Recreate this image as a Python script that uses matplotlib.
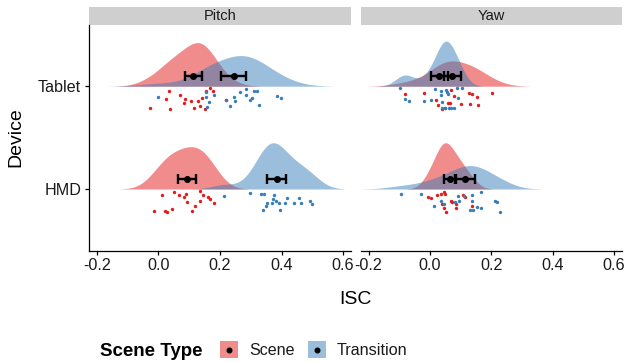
import numpy as np
import matplotlib
matplotlib.use("Agg")
import matplotlib.pyplot as plt
from matplotlib.patches import Rectangle

plt.rcParams['font.family'] = ['Liberation Sans', 'DejaVu Sans']

# ---------------- data ----------------
panels = ["Pitch", "Yaw"]
devices = ["Tablet", "HMD"]
scene_types = ["Scene", "Transition"]
colors = {"Scene": "#E41A1C", "Transition": "#377EB8"}
x_ticks = [-0.2, 0.0, 0.2, 0.4, 0.6]
x_tick_labels = ["-0.2", "0.0", "0.2", "0.4", "0.6"]

# ISC values per participant
pitch_tablet_scene = [-0.029, 0.033, 0.026, 0.036, 0.071, 0.085, 0.082, 0.106, 0.117,
                      0.129, 0.142, 0.134, 0.153, 0.166, 0.177, 0.150, 0.218]
pitch_tablet_transition = [-0.001, 0.155, 0.155, 0.164, 0.158, 0.180, 0.218, 0.234, 0.245,
                           0.250, 0.266, 0.283, 0.286, 0.299, 0.303, 0.312, 0.319, 0.326,
                           0.384, 0.397]
pitch_hmd_scene = [-0.016, 0.012, 0.022, 0.028, 0.044, 0.050, 0.068, 0.084, 0.091,
                   0.093, 0.109, 0.120, 0.134, 0.136, 0.144, 0.162, 0.166, 0.182]
pitch_hmd_transition = [0.212, 0.299, 0.332, 0.343, 0.375, 0.373, 0.381, 0.354, 0.348,
                        0.370, 0.341, 0.395, 0.392, 0.410, 0.419, 0.440, 0.457, 0.465,
                        0.493, 0.500]
yaw_tablet_scene = [-0.080, -0.020, 0.020, 0.026, 0.039, 0.050, 0.058, 0.064, 0.069,
                    0.078, 0.100, 0.126, 0.137, 0.129, 0.154, 0.158, 0.203]
yaw_tablet_transition = [-0.099, -0.080, -0.069, -0.020, 0.004, 0.015, 0.035, 0.035,
                         0.039, 0.053, 0.056, 0.058, 0.039, 0.048, 0.061, 0.069, 0.078,
                         0.091, 0.089, 0.104]
yaw_hmd_scene = [-0.005, 0.004, 0.024, 0.035, 0.045, 0.039, 0.045, 0.053, 0.069,
                 0.071, 0.086, 0.086, 0.107, 0.113, 0.137, 0.048]
yaw_hmd_transition = [-0.096, -0.031, 0.013, 0.037, 0.045, 0.080, 0.091, 0.093, 0.111,
                      0.137, 0.137, 0.129, 0.140, 0.154, 0.165, 0.167, 0.213, 0.219, 0.227]

# vertical jitter of the "rain" points (category units below the baseline)
pitch_tablet_scene_jit = [0.212, 0.042, 0.124, 0.222, 0.084, 0.124, 0.167, 0.147, 0.212,
                          0.140, 0.118, 0.189, 0.042, 0.020, 0.042, 0.222, 0.133]
pitch_tablet_transition_jit = [0.108, 0.059, 0.108, 0.150, 0.206, 0.084, 0.133, 0.189, 0.108,
                               0.140, 0.052, 0.032, 0.084, 0.130, 0.114, 0.042, 0.042, 0.179,
                               0.098, 0.118]
pitch_hmd_scene_jit = [0.216, 0.059, 0.212, 0.222, 0.196, 0.025, 0.059, 0.075, 0.052,
                       0.124, 0.216, 0.163, 0.114, 0.020, 0.059, 0.081, 0.098, 0.140]
pitch_hmd_transition_jit = [0.069, 0.035, 0.052, 0.052, 0.059, 0.101, 0.118, 0.140, 0.163,
                            0.140, 0.206, 0.206, 0.133, 0.140, 0.091, 0.140, 0.091, 0.140,
                            0.118, 0.150]
yaw_tablet_scene_jit = [0.078, 0.065, 0.137, 0.186, 0.219, 0.209, 0.163, 0.163, 0.033,
                        0.098, 0.176, 0.065, 0.078, 0.176, 0.105, 0.186, 0.065]
yaw_tablet_transition_jit = [0.016, 0.121, 0.144, 0.144, 0.137, 0.023, 0.046, 0.088, 0.154,
                             0.033, 0.056, 0.078, 0.209, 0.209, 0.209, 0.209, 0.209, 0.111,
                             0.016, 0.016]
yaw_hmd_scene_jit = [0.082, 0.092, 0.056, 0.049, 0.033, 0.147, 0.186, 0.219, 0.114,
                     0.131, 0.147, 0.180, 0.056, 0.082, 0.163, 0.049]
yaw_hmd_transition_jit = [0.049, 0.049, 0.163, 0.114, 0.147, 0.131, 0.072, 0.114, 0.065,
                          0.056, 0.114, 0.206, 0.206, 0.173, 0.186, 0.033, 0.114, 0.131, 0.219]

# summary: mean and 95% CI half-width
# order: Tablet-Scene, Tablet-Transition, HMD-Scene, HMD-Transition
pitch_mean = [0.113, 0.245, 0.093, 0.384]
pitch_ci = [0.028, 0.041, 0.029, 0.030]
yaw_mean = [0.073, 0.030, 0.066, 0.114]
yaw_ci = [0.028, 0.028, 0.020, 0.034]

values = {
    "Pitch": {("Tablet", "Scene"): pitch_tablet_scene, ("Tablet", "Transition"): pitch_tablet_transition,
              ("HMD", "Scene"): pitch_hmd_scene, ("HMD", "Transition"): pitch_hmd_transition},
    "Yaw": {("Tablet", "Scene"): yaw_tablet_scene, ("Tablet", "Transition"): yaw_tablet_transition,
            ("HMD", "Scene"): yaw_hmd_scene, ("HMD", "Transition"): yaw_hmd_transition},
}
jitters = {
    "Pitch": {("Tablet", "Scene"): pitch_tablet_scene_jit, ("Tablet", "Transition"): pitch_tablet_transition_jit,
              ("HMD", "Scene"): pitch_hmd_scene_jit, ("HMD", "Transition"): pitch_hmd_transition_jit},
    "Yaw": {("Tablet", "Scene"): yaw_tablet_scene_jit, ("Tablet", "Transition"): yaw_tablet_transition_jit,
            ("HMD", "Scene"): yaw_hmd_scene_jit, ("HMD", "Transition"): yaw_hmd_transition_jit},
}
summaries = {"Pitch": (pitch_mean, pitch_ci), "Yaw": (yaw_mean, yaw_ci)}
device_pos = {"Tablet": 2, "HMD": 1}

BW_ADJUST = 1.4


def kde(x):
    x = np.asarray(x, float)
    n = len(x)
    sd = x.std(ddof=1)
    q75, q25 = np.percentile(x, [75, 25])
    bw = BW_ADJUST * 0.9 * min(sd, (q75 - q25) / 1.34) * n ** -0.2
    grid = np.linspace(x.min() - 2.6 * bw, x.max() + 2.6 * bw, 512)
    d = np.exp(-0.5 * ((grid[:, None] - x[None, :]) / bw) ** 2).sum(1) / (n * bw * np.sqrt(2 * np.pi))
    return grid, d


# ---------------- figure ----------------
W, H = 626, 362
fig = plt.figure(figsize=(W / 100, H / 100), dpi=100)

ax_top, ax_bot = 24.5, 250.7
lefts = [(89, 351), (360.7, 622)]
axes = []
for (l, r) in lefts:
    ax = fig.add_axes([l / W, 1 - ax_bot / H, (r - l) / W, (ax_bot - ax_top) / H])
    axes.append(ax)

half_width = 0.45
for ax, panel in zip(axes, panels):
    dens = {}
    for dev in devices:
        for st in scene_types:
            dens[(dev, st)] = kde(values[panel][(dev, st)])
    dmax = max(d.max() for _, d in dens.values())
    for dev in devices:
        pos = device_pos[dev]
        for st in scene_types:
            g, d = dens[(dev, st)]
            ax.fill_between(g, pos, pos + d / dmax * half_width, color=colors[st],
                            alpha=0.5, lw=0, zorder=1)
    for dev in devices:
        pos = device_pos[dev]
        for st in scene_types:
            v = np.asarray(values[panel][(dev, st)])
            j = np.asarray(jitters[panel][(dev, st)])
            ax.scatter(v, pos - j, s=6, color=colors[st], lw=0, zorder=2)
    means, cis = summaries[panel]
    k = 0
    for dev in devices:
        pos = device_pos[dev]
        for st in scene_types:
            ax.errorbar(means[k], pos + 0.095, xerr=cis[k], fmt='o', color='black',
                        ms=4, elinewidth=1.7, capsize=3.6, capthick=1.7, zorder=3)
            k += 1

    ax.set_xlim(-0.226, 0.626)
    ax.set_ylim(0.4, 2.6)
    ax.set_xticks(x_ticks)
    ax.set_xticklabels(x_tick_labels)
    for s in ["top", "right"]:
        ax.spines[s].set_visible(False)
    ax.spines["bottom"].set_linewidth(0.9)
    ax.spines["left"].set_linewidth(0.9)
    ax.tick_params(axis='both', length=3.1, width=0.9, labelsize=11.6, pad=2.5,
                   colors='black', labelcolor='#1a1a1a')
    # strip
    strip_h = 17.5 / (ax_bot - ax_top)
    ax.add_patch(Rectangle((0, 1), 1, strip_h, transform=ax.transAxes, clip_on=False,
                           facecolor='#CFCFCF', edgecolor='none'))
    ax.text(0.5, 1 + strip_h / 2, panel, transform=ax.transAxes, ha='center', va='center',
            fontsize=10.5, color='#1a1a1a')

axes[0].set_yticks([device_pos[d] for d in devices])
axes[0].set_yticklabels(devices)
axes[1].spines["left"].set_visible(False)
axes[1].set_yticks([])

fig.text(355.5 / W, 1 - 299 / H, "ISC", ha='center', va='center', fontsize=14)
fig.text(16 / W, 1 - 137.6 / H, "Device", ha='center', va='center', fontsize=14, rotation=90)

# legend
lax = fig.add_axes([0, 0, 1, 1], zorder=10)
lax.set_xlim(0, W)
lax.set_ylim(H, 0)
lax.axis('off')
lax.text(100, 351, "Scene Type", ha='left', va='center', fontsize=13.5, fontweight='bold')
key_x = {"Scene": 220, "Transition": 308}
lab_x = {"Scene": 249, "Transition": 337}
for st in scene_types:
    lax.add_patch(Rectangle((key_x[st], 340.7), 17.6, 17.6, facecolor=colors[st], alpha=0.5,
                            edgecolor='none'))
    lax.plot([key_x[st] + 8.8], [349.5], 'o', color='black', ms=3.3)
    lax.text(lab_x[st], 350.5, st, ha='left', va='center', fontsize=11.6, color='#1a1a1a')

fig.savefig("out.png", dpi=100)
